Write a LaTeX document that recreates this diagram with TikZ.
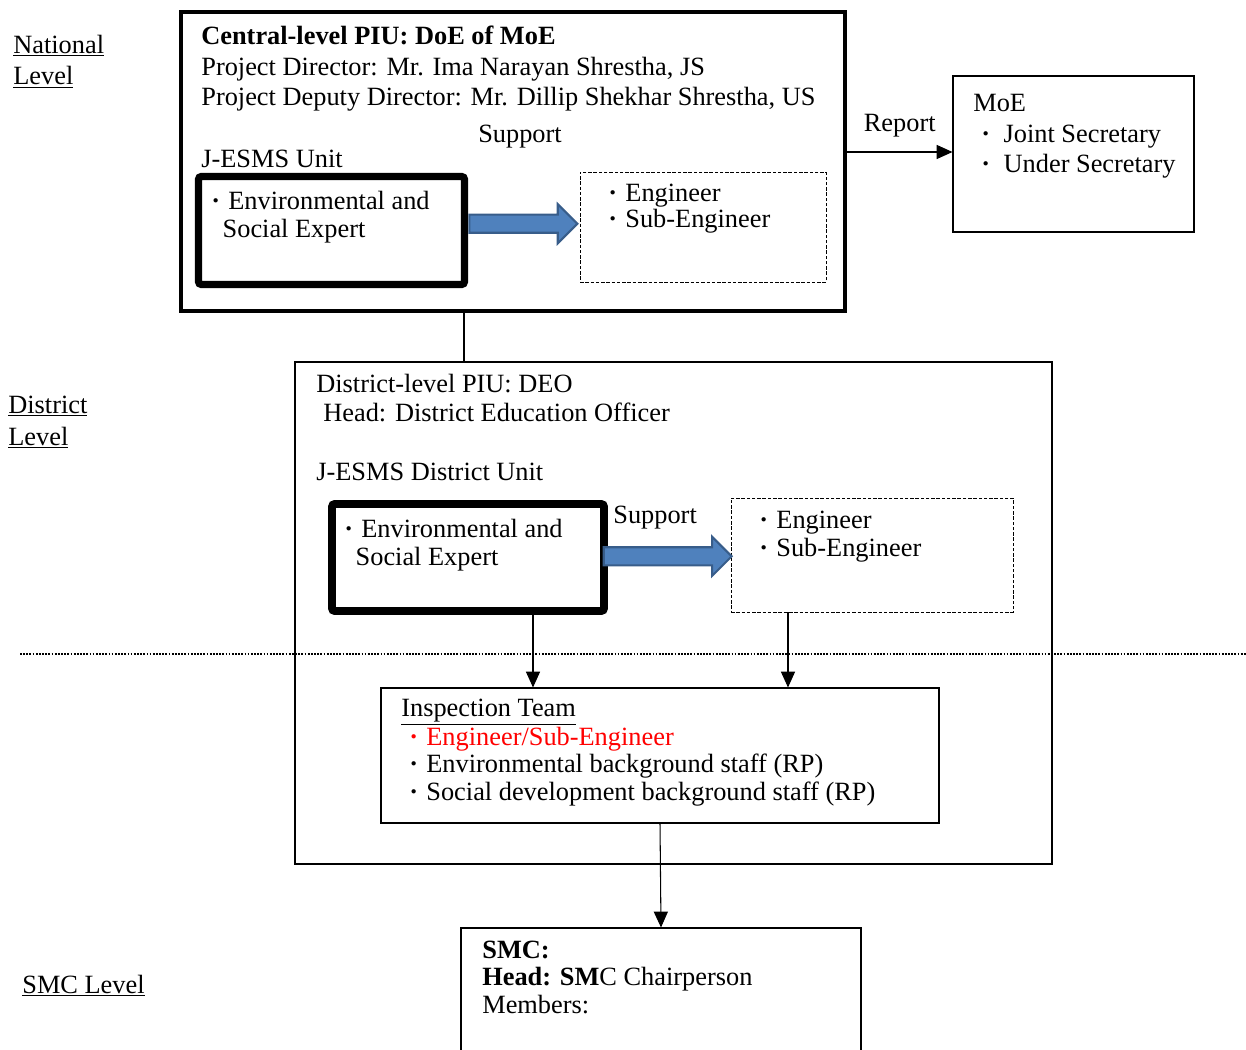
\documentclass[tikz,border=0pt]{standalone}
\usepackage{fontspec}
\setmainfont{Liberation Serif}
\usetikzlibrary{fit,shapes.arrows,arrows.meta,positioning}

\newcommand\blt{\makebox[0.95em][c]{\textbf{·}}}

\begin{document}
\begin{tikzpicture}[x=0.02cm, y=-0.02cm,
    txt/.style={anchor=base west, inner sep=0, align=left, font=\fontsize{15}{17.4}\selectfont},
    frame/.style={draw, line width=0.6pt, inner sep=0},
    heavy/.style={draw, line width=4pt, inner sep=0, rounded corners=1.5pt},
    dbox/.style={draw, line width=0.5pt, dash pattern=on 2pt off 1pt, inner sep=0},
    bluearrow/.style={single arrow, fill={rgb,255:red,79;green,129;blue,189},
      draw={rgb,255:red,56;green,93;blue,138}, line width=1.2pt, inner xsep=0,
      inner ysep=0.16cm, single arrow head extend=0.21cm},
    arr/.style={-{Triangle[length=9pt,width=8pt]}, line width=0.6pt}]

  \useasboundingbox (0,0) rectangle (1246,1050);
  \clip (0,0) rectangle (1246,1050);

  % levels (text nodes sit on the baseline of their last line)
  \node[txt, font=\fontsize{15}{18.2}\selectfont] (natl) at (13,85) {\underline{National}\\\underline{Level}};
  \node[txt, font=\fontsize{15}{18.2}\selectfont] (dstl) at (8,445) {\underline{District}\\\underline{Level}};
  \node[txt] (smcl) at (22,993) {\underline{SMC Level}};

  % central level
  \node[draw, line width=2.3pt, inner sep=0, fit={(181,12) (845,311)}] (cpiu) {};
  \node[txt] (ctitle) at (201,106) {\textbf{Central-level PIU: DoE of MoE}\\
    Project Director: Mr. Ima Narayan Shrestha, JS\\
    Project Deputy Director: Mr. Dillip Shekhar Shrestha, US};
  \node[txt, anchor=base] (csup) at (520,143) {Support};
  \node[txt] (cunit) at (201,168) {J-ESMS Unit};

  \node[heavy, fit={(198.5,176.5) (464.5,284.5)}] (esu) {};
  \node[txt, font=\fontsize{15}{16}\selectfont] (esutxt) at (203,238) {\blt Environmental and\\\hspace*{11pt}Social Expert};
  \node[dbox, fit={(580,172) (826,282)}] (eng) {};
  \node[txt, font=\fontsize{15}{14.8}\selectfont] (engtxt) at (600,228) {\blt Engineer\\\blt Sub-Engineer};
  \path (esu.east) -- (eng.west) node[midway, bluearrow, minimum height=2.16cm, xshift=-0.1cm, yshift=0.1cm] (ba1) {};

  % MoE
  \node[frame, fit={(953,76) (1194,232)}] (moe) {};
  \node[txt] (moetxt) at (973,173) {MoE\\
    \blt\hspace{3pt}Joint Secretary\\
    \blt\hspace{3pt}Under Secretary};
  \coordinate (rp) at (900,152);
  \draw[arr] (cpiu.east |- rp) -- node[txt, anchor=base, above=8pt] (rlab) {Report} (moe.west |- rp);

  % district level
  \node[frame, fit={(295,362) (1052,864)}] (dpiu) {};
  \coordinate (lk) at (464,0);
  \draw[line width=0.8pt] (cpiu.south -| lk) -- (dpiu.north -| lk);
  \node[txt, font=\fontsize{15}{16.2}\selectfont] (dtitle) at (316,421) {District-level PIU: DEO\\\hspace*{4pt}Head: District Education Officer};
  \node[txt] (dunit) at (316,480) {J-ESMS District Unit};

  \node[heavy, line width=4.4pt, fit={(332,504) (604,611)}] (dese) {};
  \node[txt, font=\fontsize{15}{15.4}\selectfont] (desetxt) at (336,565) {\blt Environmental and\\\hspace*{11pt}Social Expert};
  \node[txt] (dsup) at (613,523) {Support};
  \node[dbox, fit={(731,498) (1013,612)}] (deng) {};
  \node[txt, font=\fontsize{15}{15.4}\selectfont] (dengtxt) at (751,556) {\blt Engineer\\\blt Sub-Engineer};
  \path (dese.east) -- (deng.west) node[midway, bluearrow, minimum height=2.56cm, xshift=-0.12cm] (ba2) {};

  \draw[line width=1pt, dash pattern=on 1pt off 0.8pt] (20,654) -- (1246,654);

  % inspection team
  \node[frame, fit={(381,688) (939,823)}] (insp) {};
  \node[txt, font=\fontsize{15}{15.4}\selectfont] (insptxt) at (401,800) {\underline{Inspection Team}\\
    \textcolor{red}{\blt Engineer/Sub-Engineer}\\
    \blt Environmental background staff (RP)\\
    \blt Social development background staff (RP)};
  \coordinate (c1) at (533,0);
  \coordinate (c2) at (788,0);
  \draw[arr] (dese.south -| c1) -- (insp.north -| c1);
  \draw[arr] (deng.south -| c2) -- (insp.north -| c2);

  % SMC
  \node[frame, fit={(461,928) (861,1080)}] (smc) {};
  \node[txt, font=\fontsize{15}{15.4}\selectfont] (smctxt) at (482,1013) {\textbf{SMC:}\\
    \textbf{Head: SM}C Chairperson\\
    Members:};
  \draw[arr] (insp.south) -- (smc.north);
\end{tikzpicture}
\end{document}
